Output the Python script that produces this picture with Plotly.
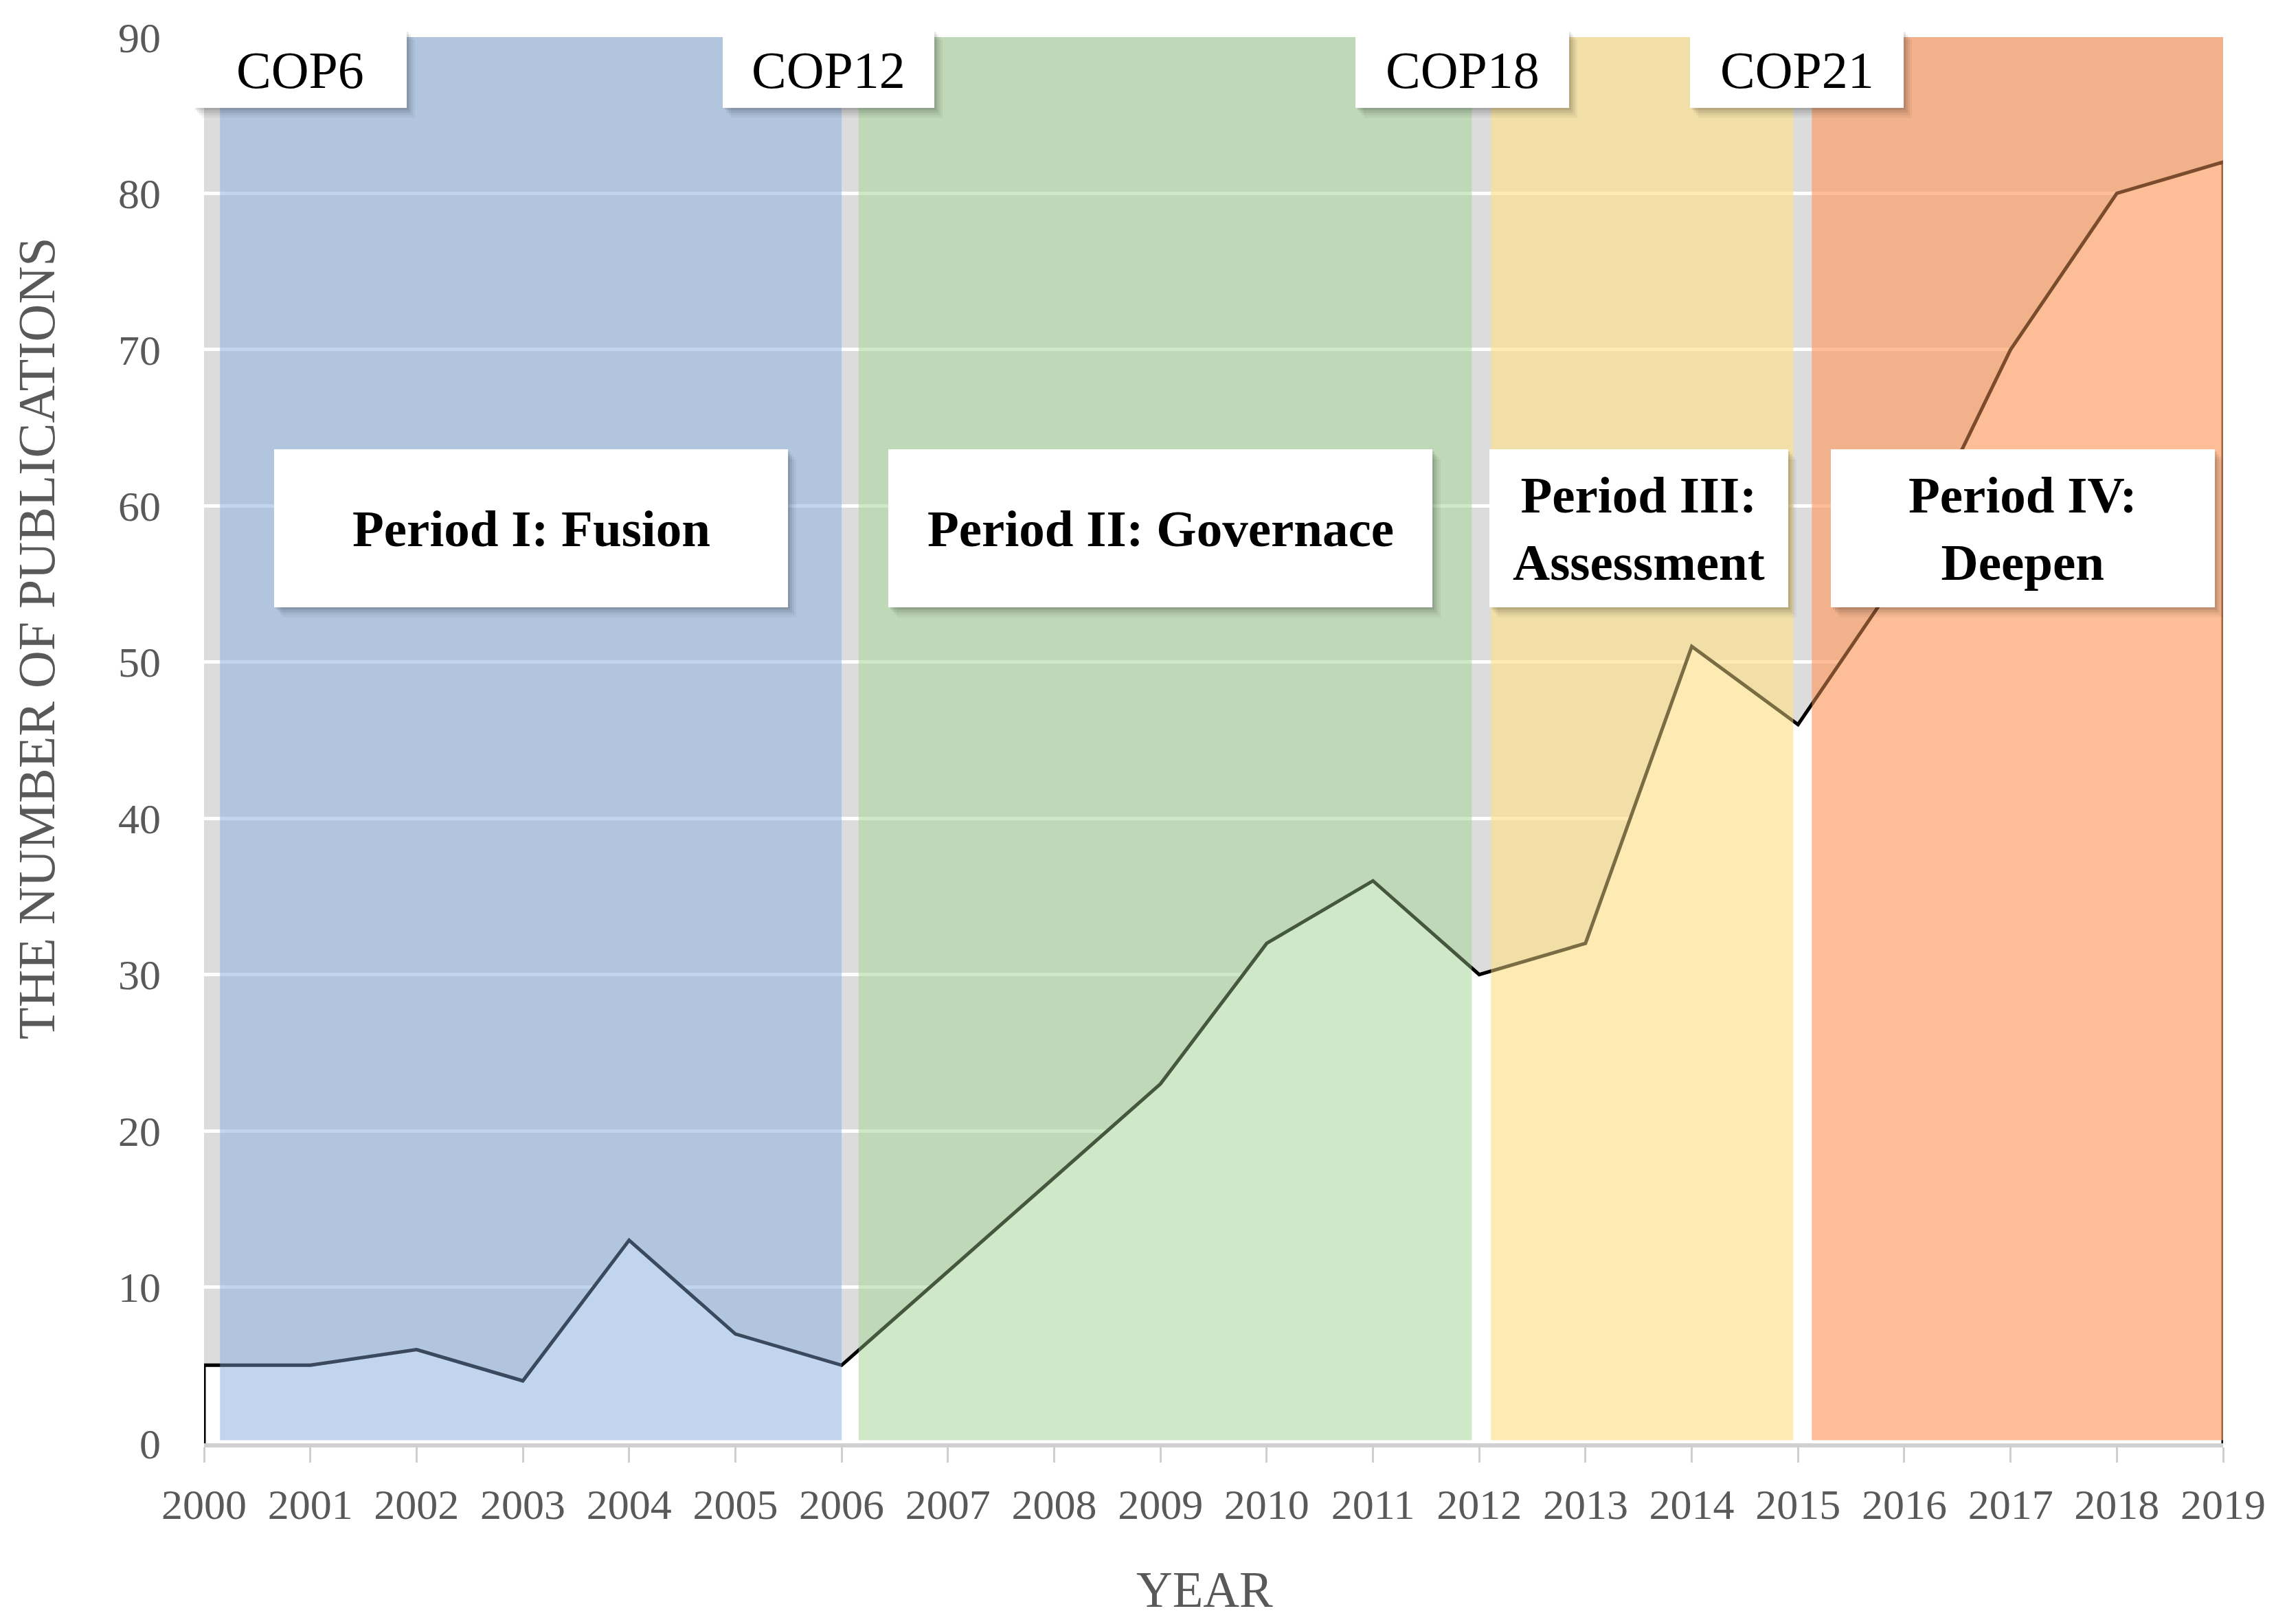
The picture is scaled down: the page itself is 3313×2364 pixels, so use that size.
import numpy as np
import plotly.graph_objects as go

# ---------------- data ----------------
years = list(range(2000, 2020))
publications = [5, 5, 6, 4, 13, 7, 5, 11, 17, 23, 32, 36, 30, 32, 51, 46, 56, 70, 80, 82]

period_labels = ["Period I: Fusion", "Period II: Governace",
                 "Period III:<br>Assessment", "Period IV:<br>Deepen"]
cop_labels = ["COP6", "COP12", "COP18", "COP21"]
y_ticks = list(range(0, 100, 10))
x_title = "YEAR"
y_title = "THE NUMBER OF PUBLICATIONS"

# ---------------- layout constants ----------------
W, H = 3313, 2364
ML, MR, MT, MB = 297, 77, 54, 263
PW, PH = W - ML - MR, H - MT - MB

def px_x(p):
    return (p - ML) / PW

def px_y(p):
    return (H - MB - p) / PH

FONT = "Liberation Serif"
GREY_TXT = "#595959"

# translucent period bands (in year units)
band_x = [(2000.15, 2006.0), (2006.16, 2011.93), (2012.11, 2014.955), (2015.13, 2019.0)]
band_rgb = [(142, 179, 226), (168, 213, 153), (252, 224, 138), (252, 153, 95)]
band_opacity = [0.55, 0.55, 0.65, 0.65]
band_y = (0.2, 90)

# label boxes in pixel coordinates (left, right) and (top, bottom)
cop_boxes = [(281, 592), (1052, 1360), (1973, 2284), (2460, 2771)]
cop_tb = (43, 157)
period_boxes = [(399, 1147), (1293, 2085), (2168, 2603), (2665, 3224)]
period_tb = (654, 884)

fig = go.Figure()

# area chart: white fill with black outline (including vertical edges)
area_x = [years[0]] + years + [years[-1]]
area_y = [0] + publications + [0]
fig.add_trace(go.Scatter(
    x=area_x, y=area_y, mode="lines", fill="tozeroy",
    fillcolor="white", line=dict(color="black", width=5),
    hoverinfo="skip", showlegend=False))

# translucent colored period bands laid over the area chart
for (x0, x1), (r, g, b), op in zip(band_x, band_rgb, band_opacity):
    fig.add_trace(go.Scatter(
        x=[x0, x1, x1, x0, x0], y=[band_y[0], band_y[0], band_y[1], band_y[1], band_y[0]],
        mode="lines", fill="toself", fillcolor=f"rgba({r},{g},{b},{op})",
        line=dict(width=0), hoverinfo="skip", showlegend=False))

# darkening pass of the data line over the bands
fig.add_trace(go.Scatter(
    x=years, y=publications, mode="lines",
    line=dict(color="rgba(0,0,0,0.25)", width=5),
    hoverinfo="skip", showlegend=False))

shapes = []

def add_box(l, r, t, b):
    for k, a in zip([3, 6, 9, 12], [0.09, 0.07, 0.05, 0.04]):
        shapes.append(dict(type="rect", xref="paper", yref="paper",
                           x0=px_x(l + k), x1=px_x(r + k),
                           y0=px_y(b + k * 1.2), y1=px_y(t + k * 1.2),
                           fillcolor=f"rgba(0,0,0,{a})", line=dict(width=0),
                           layer="above"))
    shapes.append(dict(type="rect", xref="paper", yref="paper",
                       x0=px_x(l), x1=px_x(r), y0=px_y(b), y1=px_y(t),
                       fillcolor="white", line=dict(width=0), layer="above"))

annotations = []
for (l, r), txt in zip(cop_boxes, cop_labels):
    add_box(l, r, cop_tb[0], cop_tb[1])
    annotations.append(dict(xref="paper", yref="paper",
                            x=px_x((l + r) / 2), y=px_y((cop_tb[0] + cop_tb[1]) / 2 + 2),
                            text=txt, showarrow=False, xanchor="center", yanchor="middle",
                            font=dict(family=FONT, size=76, color="black")))
for (l, r), txt in zip(period_boxes, period_labels):
    add_box(l, r, period_tb[0], period_tb[1])
    annotations.append(dict(xref="paper", yref="paper",
                            x=px_x((l + r) / 2), y=px_y((period_tb[0] + period_tb[1]) / 2),
                            text="<b>" + txt.replace("<br>", "</b><br><b>") + "</b>",
                            showarrow=False, xanchor="center", yanchor="middle",
                            font=dict(family=FONT, size=75, color="black")))

# axis titles
annotations.append(dict(xref="paper", yref="paper", x=px_x(1753), y=px_y(2314),
                        text=x_title, showarrow=False, xanchor="center", yanchor="middle",
                        font=dict(family=FONT, size=73, color=GREY_TXT)))
annotations.append(dict(xref="paper", yref="paper", x=px_x(53), y=px_y(929),
                        text=y_title, showarrow=False, xanchor="center", yanchor="middle",
                        textangle=-90,
                        font=dict(family=FONT, size=76, color=GREY_TXT)))

fig.update_layout(
    width=W, height=H,
    margin=dict(l=ML, r=MR, t=MT, b=MB, autoexpand=False),
    paper_bgcolor="white", plot_bgcolor="#dcdcdc",
    shapes=shapes, annotations=annotations,
    showlegend=False,
    font=dict(family=FONT, color=GREY_TXT),
)
fig.update_xaxes(
    range=[years[0], years[-1]], tickvals=years, ticktext=[str(y) for y in years],
    showgrid=False, zeroline=False,
    showline=True, linecolor="#d0d0d0", linewidth=6,
    ticks="outside", ticklen=22, tickwidth=3, tickcolor="#cfcfcf",
    tickfont=dict(family=FONT, size=62, color=GREY_TXT),
    ticklabelstandoff=8,
)
fig.update_yaxes(
    range=[0, 90], tickvals=y_ticks,
    showgrid=True, gridcolor="white", gridwidth=5,
    zeroline=False, showline=False, ticks="",
    tickfont=dict(family=FONT, size=62, color=GREY_TXT),
    ticklabelstandoff=62,
)

fig.write_html("out.html", config={"displayModeBar": False},
               post_script="document.body.style.margin='0';")
